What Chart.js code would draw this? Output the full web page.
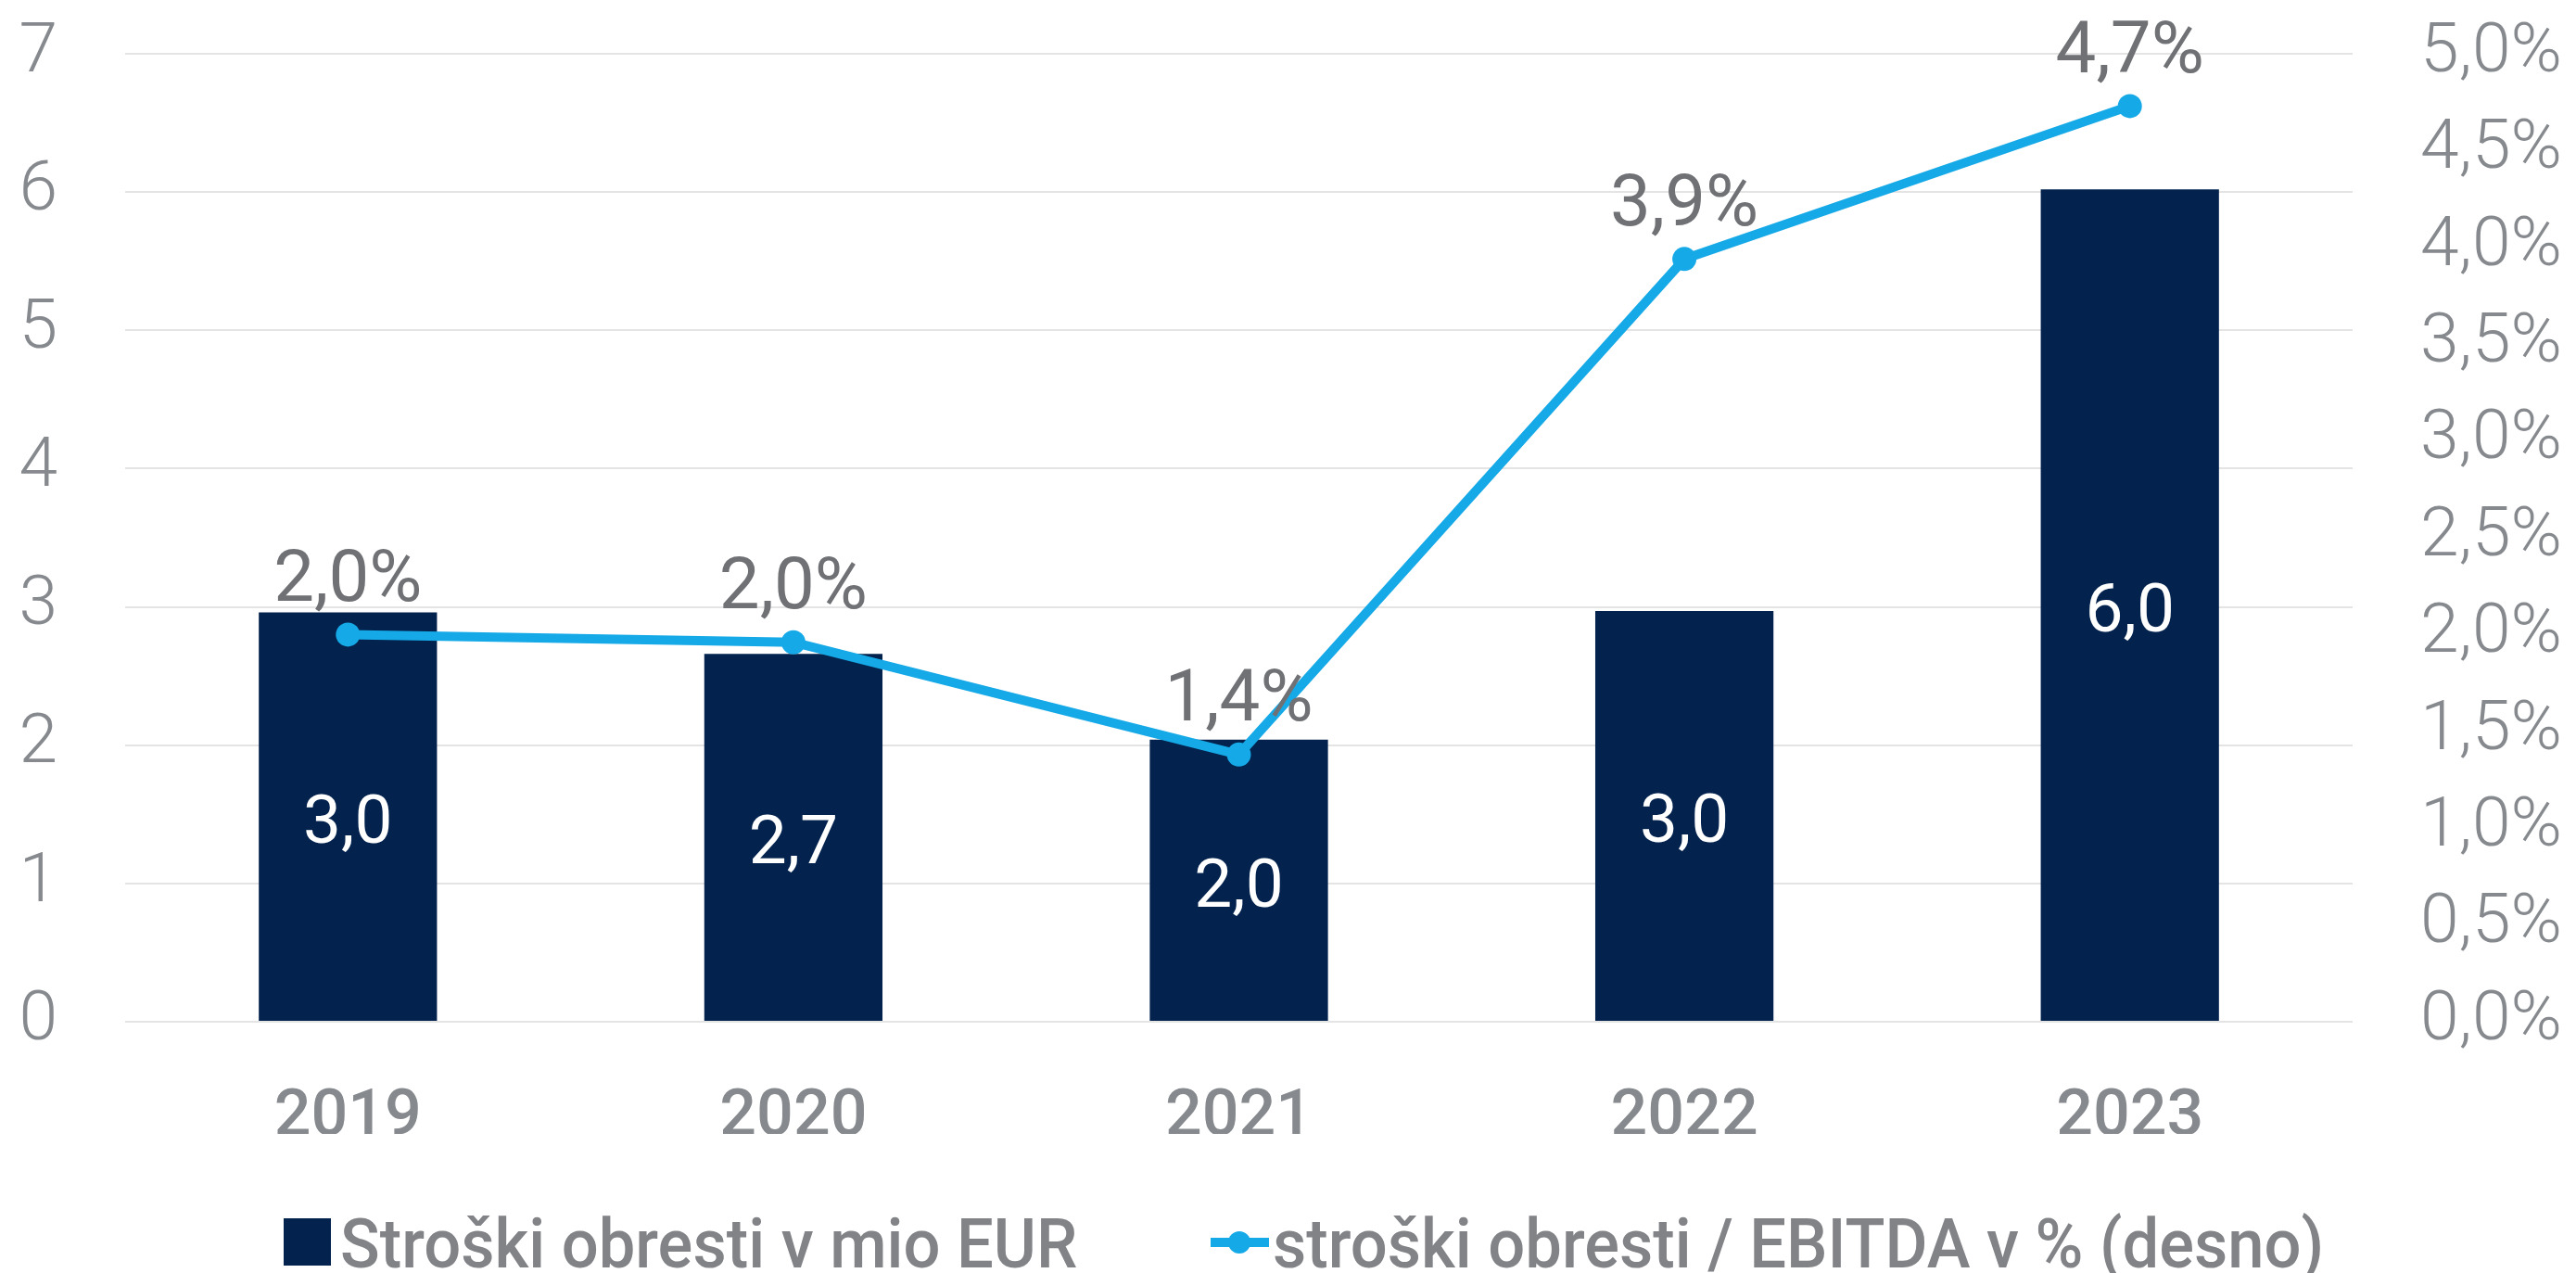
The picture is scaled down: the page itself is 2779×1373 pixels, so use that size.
<!DOCTYPE html>
<html>
<head>
<meta charset="utf-8">
<script src="https://cdn.jsdelivr.net/npm/chart.js@4.4.1/dist/chart.umd.min.js"></script>
<style>
  html, body { margin: 0; padding: 0; background: #fff; }
</style>
</head>
<body>
<canvas id="costChart" width="2779" height="1373"></canvas>
<script>
// data
const years = ['2019', '2020', '2021', '2022', '2023'];
const interestCost = [2.96, 2.66, 2.04, 2.97, 6.02];      // mio EUR (left axis)
const interestToEbitda = [2.0, 1.96, 1.38, 3.94, 4.73];   // % (right axis)
const leftAxis = { min: 0, max: 7, step: 1 };
const rightAxis = { min: 0, max: 5, step: 0.5 };
const seriesNames = ['Stroški obresti v mio EUR', 'stroški obresti / EBITDA v % (desno)'];

const C = { navy: '#03234e', blue: '#15a9e7', tick: '#86898d', label: '#6f7175', legend: '#818387', grid: '#e4e4e4' };

const fmt = (v, d) => v.toFixed(d).replace('.', ',');

// value labels: white inside bars, grey above line points
const valueLabels = {
    id: 'valueLabels',
    afterDatasetsDraw(chart) {
        const ctx = chart.ctx;
        ctx.save();
        ctx.textAlign = 'center';
        ctx.textBaseline = 'middle';
        const bars = chart.getDatasetMeta(0);
        ctx.font = '400 73px Roboto';
        ctx.fillStyle = '#ffffff';
        bars.data.forEach((el, i) => {
            ctx.fillText(fmt(interestCost[i], 1), el.x, (el.y + el.base) / 2 + 10);
        });
        const line = chart.getDatasetMeta(1);
        ctx.font = '400 78px Roboto';
        ctx.fillStyle = C.label;
        line.data.forEach((el, i) => {
            ctx.fillText(fmt(interestToEbitda[i], 1) + '%', el.x, el.y - 56);
        });
        ctx.restore();
    }
};

// legend drawn by hand (squeezed a little to look like the condensed original)
const bottomLegend = {
    id: 'bottomLegend',
    afterDraw(chart) {
        const ctx = chart.ctx;
        const midY = 1340, base = 1367, squeeze = 0.94;
        ctx.save();
        ctx.fillStyle = C.navy;
        ctx.fillRect(306, midY - 26, 51, 51);

        ctx.strokeStyle = C.blue;
        ctx.lineWidth = 10;
        ctx.beginPath();
        ctx.moveTo(1306, midY);
        ctx.lineTo(1369, midY);
        ctx.stroke();
        ctx.fillStyle = C.blue;
        ctx.beginPath();
        ctx.arc(1337, midY, 12, 0, Math.PI * 2);
        ctx.fill();

        ctx.font = '500 75px Roboto';
        ctx.fillStyle = C.legend;
        ctx.textBaseline = 'alphabetic';
        [[367, seriesNames[0]], [1373, seriesNames[1]]].forEach(([x, txt]) => {
            ctx.save();
            ctx.translate(x, base);
            ctx.scale(squeeze, 1);
            ctx.fillText(txt, 0, 0);
            ctx.restore();
        });
        ctx.restore();
    }
};

// vertical axes must not push the plot area down with their label padding
const noVertPad = s => { s.paddingTop = 0; s.paddingBottom = 0; };

new Chart(document.getElementById('costChart').getContext('2d'), {
    data: {
        labels: years,
        datasets: [
            {
                type: 'bar', label: seriesNames[0], data: interestCost, yAxisID: 'y',
                backgroundColor: C.navy, barPercentage: 0.4, categoryPercentage: 1.0, order: 2
            },
            {
                type: 'line', label: seriesNames[1], data: interestToEbitda, yAxisID: 'y1',
                borderColor: C.blue, backgroundColor: C.blue, borderWidth: 10, tension: 0,
                pointRadius: 13, pointBackgroundColor: C.blue, pointBorderWidth: 0, order: 1
            }
        ]
    },
    options: {
        responsive: false,
        animation: false,
        devicePixelRatio: 1,
        layout: { padding: { top: 58, bottom: 150, left: 0, right: 0 } },
        plugins: { legend: { display: false }, tooltip: { enabled: false } },
        scales: {
            x: {
                grid: { display: false, drawTicks: false },
                border: { display: false },
                ticks: { color: C.tick, padding: 62, font: { family: 'Roboto', size: 70, weight: 500 } },
                afterFit: s => { s.height = 121; }
            },
            y: {
                position: 'left',
                min: leftAxis.min, max: leftAxis.max,
                grid: { color: C.grid, lineWidth: 2, drawTicks: false },
                border: { display: false },
                ticks: { stepSize: leftAxis.step, color: C.tick, padding: 73, font: { family: 'Roboto', size: 75, weight: 300 } },
                afterFit: s => { s.width = 135; noVertPad(s); }
            },
            y1: {
                position: 'right',
                min: rightAxis.min, max: rightAxis.max,
                grid: { display: false, drawTicks: false },
                border: { display: false },
                ticks: { stepSize: rightAxis.step, color: C.tick, padding: 73, font: { family: 'Roboto', size: 75, weight: 300 },
                         callback: v => fmt(v, 1) + '%' },
                afterFit: s => { s.width = 241; noVertPad(s); }
            }
        }
    },
    plugins: [valueLabels, bottomLegend]
});
</script>
</body>
</html>
